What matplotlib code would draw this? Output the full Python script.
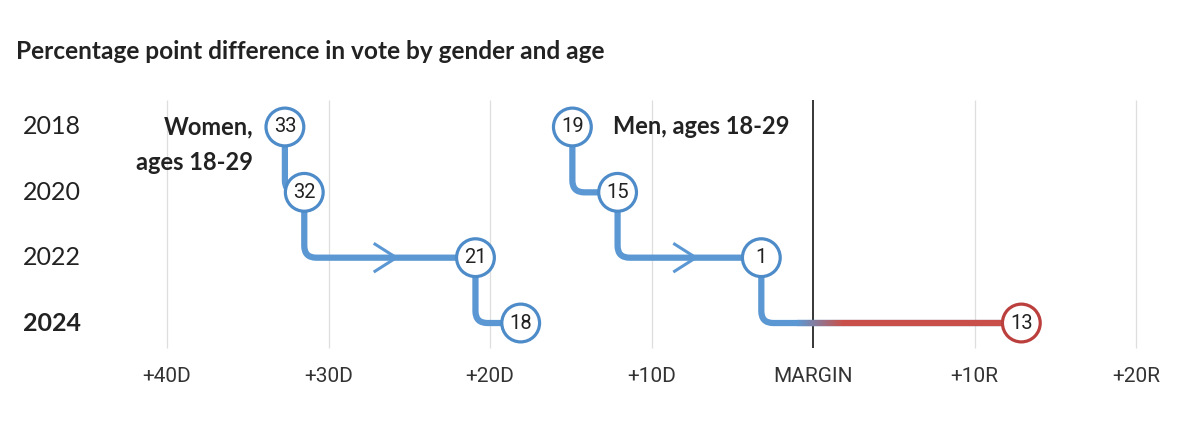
import numpy as np
import matplotlib
matplotlib.use("Agg")
import matplotlib.pyplot as plt
from matplotlib.path import Path
from matplotlib.patches import PathPatch
from matplotlib.collections import LineCollection
from matplotlib.colors import to_rgb
import matplotlib.transforms as mtransforms

# ---- data ----
years = [2018, 2020, 2022, 2024]
year_labels = ["2018", "2020", "2022", "2024"]

# margin position, negative = D, positive = R
women_margin = [-32.7, -31.5, -20.9, -18.1]
women_labels = ["33", "32", "21", "18"]
men_margin = [-14.9, -12.1, -3.2, 12.9]
men_labels = ["19", "15", "1", "13"]

tick_values = [-40, -30, -20, -10, 0, 10, 20]
tick_labels = ["+40D", "+30D", "+20D", "+10D", "MARGIN", "+10R", "+20R"]

title = "Percentage point difference in vote by gender and age"

BLUE = "#5b98d3"
BLUE_EDGE = "#4d8bc9"
RED = "#c9504a"
RED_EDGE = "#bb3f3d"
TXT = "#222222"

LIGHT = ["Roboto", "DejaVu Sans"]
BOLD = ["Lato", "DejaVu Sans"]

W, H = 1200, 447
fig = plt.figure(figsize=(W / 100, H / 100), dpi=100)
ax = fig.add_axes([0, 0, 1, 1])
ax.axis("off")

# scale: 16.15 px per point, zero at 813 px; 32.67 px per year, 2018 at 127 px
ax.set_xlim(-813 / 16.15, (W - 813) / 16.15)
ax.set_ylim(2018 + (H - 127) / 32.67, 2018 - 127 / 32.67)

rx, ry = 12 / 16.15, 12 / 32.67
y_top, y_bot = 2018 - 27 / 32.67, 2018 + 221 / 32.67

# grid
for v in tick_values:
    if v == 0:
        ax.vlines(v, y_top, y_bot, color="black", lw=1.1, zorder=2)
    else:
        ax.vlines(v, y_top, y_bot, color="#dedede", lw=0.9, zorder=0)

xtrans = mtransforms.blended_transform_factory(ax.transData, fig.transFigure)
for v, lab in zip(tick_values, tick_labels):
    ax.text(v, 1 - 377 / H, lab, transform=xtrans, ha="center", va="center",
            fontsize=15, color="#333333", family=LIGHT)

ytrans = mtransforms.blended_transform_factory(fig.transFigure, ax.transData)
for yr, lab in zip(years, year_labels):
    ax.text(23 / W, yr, lab, transform=ytrans,
            ha="left", va="center", fontsize=18, color=TXT, family=BOLD,
            fontweight="bold" if yr == years[-1] else "normal")

fig.text(16 / W, 1 - 59 / H, title, ha="left", va="baseline", fontsize=17.6,
         fontweight="bold", color=TXT, family=BOLD)


def draw_series(margin, labels):
    for i in range(len(margin) - 1):
        x0, y0, x1, y1 = margin[i], years[i], margin[i + 1], years[i + 1]
        s = np.sign(x1 - x0)
        verts = [(x0, y0), (x0, y1 - ry), (x0, y1), (x0 + s * rx, y1), (x1, y1)]
        codes = [Path.MOVETO, Path.LINETO, Path.CURVE3, Path.CURVE3, Path.LINETO]
        ax.add_patch(PathPatch(Path(verts, codes), fill=False, edgecolor=BLUE,
                               lw=4.5, capstyle="butt", joinstyle="round", zorder=3))
        if x0 < 0 < x1:
            # crossing the margin line: fade blue into red
            xs = np.linspace(-1.0, x1, 200)
            c0, c1 = np.array(to_rgb(BLUE)), np.array(to_rgb(RED))
            t = np.clip((xs[:-1] + 1.0) / 2.8, 0, 1)[:, None]
            cols = c0 * (1 - t) + c1 * t
            segs = [[(xs[k], y1), (xs[k + 1], y1)] for k in range(len(xs) - 1)]
            ax.add_collection(LineCollection(segs, colors=cols, lw=4.5,
                                             capstyle="butt", zorder=3.5))
        elif abs(x1 - x0) > 5:
            # arrow on the long horizontal runs
            tip = (x0 + x1) / 2 + 0.4
            ax.plot([tip - 1.4, tip, tip - 1.4], [y1 - 0.44, y1, y1 + 0.44],
                    color=BLUE, lw=2.2, solid_capstyle="butt", zorder=3)
    edge = [RED_EDGE if m > 0 else BLUE_EDGE for m in margin]
    ax.scatter(margin, years, s=740, facecolor="white", edgecolor=edge,
               linewidth=2.3, zorder=5)
    for m, yr, lab in zip(margin, years, labels):
        ax.text(m, yr, lab, ha="center", va="center", fontsize=14.5, color=TXT,
                family=LIGHT, zorder=6)


draw_series(women_margin, women_labels)
draw_series(men_margin, men_labels)

ax.text(women_margin[0] - 1.95, years[0], "Women,", ha="right", va="center",
        fontsize=17, fontweight="bold", color=TXT, family=BOLD)
ax.text(women_margin[0] - 1.95, years[0] + 36 / 32.67, "ages 18-29", ha="right", va="center",
        fontsize=17, fontweight="bold", color=TXT, family=BOLD)
ax.text(men_margin[0] + 2.5, years[0], "Men, ages 18-29", ha="left", va="center",
        fontsize=17, fontweight="bold", color=TXT, family=BOLD)

fig.savefig("out.png", dpi=100, facecolor="white")
